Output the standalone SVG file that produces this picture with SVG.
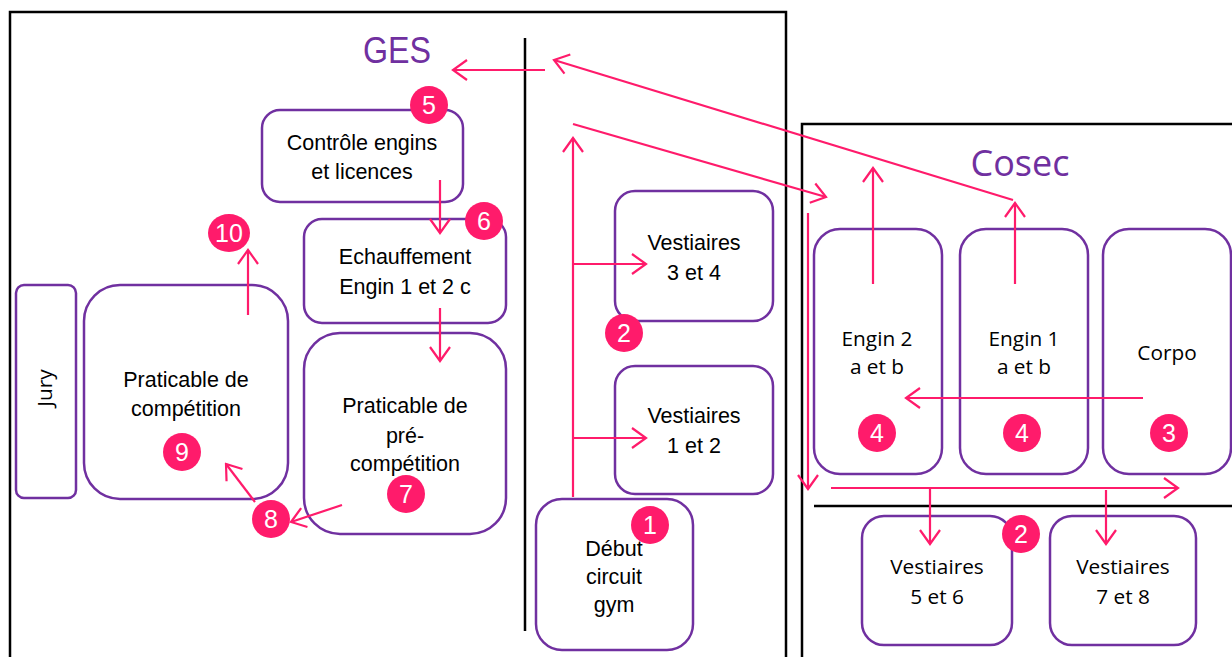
<svg xmlns="http://www.w3.org/2000/svg" width="1232" height="657" viewBox="0 0 1232 657">
<defs>
<marker id="ah" markerUnits="userSpaceOnUse" markerWidth="18" markerHeight="24" refX="16" refY="12" orient="auto">
<path d="M2,2 L16,12 L2,22" fill="none" stroke="#FF1B6B" stroke-width="2.2"/>
</marker>
</defs>
<style>
.wall{fill:none;stroke:#000;stroke-width:2.5}
.box{fill:#fff;stroke:#7030A0;stroke-width:2.5}
.t{font-family:"Liberation Sans",Arial,sans-serif;font-size:21.5px;fill:#000;text-anchor:middle}
.r{font-family:"Open Sans","Liberation Sans",sans-serif;font-size:20.8px;fill:#000;text-anchor:middle}
.title{fill:#7030A0;text-anchor:middle}
.badge circle,.badge ellipse{fill:#FF1B6B}
.badge text{font-family:"Liberation Sans",Arial,sans-serif;font-size:25px;fill:#fff;text-anchor:middle}
.arr{fill:none;stroke:#FF1B6B;stroke-width:2.2;marker-end:url(#ah)}
</style>
<rect width="1232" height="657" fill="#fff"/>
<g id="walls">
<rect class="wall" x="10" y="12" width="776" height="670"/>
<rect class="wall" x="802" y="124" width="450" height="560"/>
<line class="wall" x1="525" y1="38" x2="525" y2="631"/>
<line class="wall" x1="814" y1="506" x2="1232" y2="506"/>
</g>
<text class="title" x="397" y="63" font-family="Liberation Sans, Arial, sans-serif" font-size="36" textLength="68" lengthAdjust="spacingAndGlyphs">GES</text>
<text class="title" x="1020" y="176" font-family="Open Sans, Liberation Sans, sans-serif" font-size="36">Cosec</text>

<g id="controle">
<rect class="box" x="262" y="110" width="201" height="92" rx="18"/>
<text class="t" x="362" y="150">Contrôle engins</text>
<text class="t" x="362" y="179">et licences</text>
</g>
<g id="echauffement">
<rect class="box" x="304" y="219" width="202" height="104" rx="18"/>
<text class="t" x="405" y="264">Echauffement</text>
<text class="t" x="405" y="294">Engin 1 et 2 c</text>
</g>
<g id="precompetition">
<rect class="box" x="304" y="333" width="202" height="201" rx="36"/>
<text class="t" x="405" y="413">Praticable de</text>
<text class="t" x="405" y="443">pré-</text>
<text class="t" x="405" y="471">compétition</text>
</g>
<g id="competition">
<rect class="box" x="84" y="285" width="204" height="214" rx="36"/>
<text class="t" x="186" y="387">Praticable de</text>
<text class="t" x="186" y="416">compétition</text>
</g>
<g id="jury">
<rect class="box" x="16" y="285" width="60" height="213" rx="8"/>
<text class="r" x="0" y="0" font-size="18" transform="translate(52,388) rotate(-90)">Jury</text>
</g>
<g id="vestiaires34">
<rect class="box" x="615" y="191" width="158" height="130" rx="20"/>
<text class="t" x="694" y="250">Vestiaires</text>
<text class="t" x="694" y="280">3 et 4</text>
</g>
<g id="vestiaires12">
<rect class="box" x="615" y="366" width="158" height="128" rx="20"/>
<text class="t" x="694" y="423">Vestiaires</text>
<text class="t" x="694" y="453">1 et 2</text>
</g>
<g id="debut">
<rect class="box" x="536" y="499" width="157" height="151" rx="26"/>
<text class="t" x="614" y="556">Début</text>
<text class="t" x="614" y="584">circuit</text>
<text class="t" x="614" y="612">gym</text>
</g>
<g id="engin2">
<rect class="box" x="814" y="229" width="128" height="245" rx="26"/>
<text class="r" x="877" y="346">Engin 2</text>
<text class="r" x="877" y="374">a et b</text>
</g>
<g id="engin1">
<rect class="box" x="960" y="229" width="128" height="245" rx="26"/>
<text class="r" x="1024" y="346">Engin 1</text>
<text class="r" x="1024" y="374">a et b</text>
</g>
<g id="corpo">
<rect class="box" x="1103" y="229" width="128" height="245" rx="26"/>
<text class="r" x="1167" y="360">Corpo</text>
</g>
<g id="vestiaires56">
<rect class="box" x="862" y="516" width="150" height="129" rx="22"/>
<text class="r" x="937" y="574">Vestiaires</text>
<text class="r" x="937" y="604">5 et 6</text>
</g>
<g id="vestiaires78">
<rect class="box" x="1050" y="516" width="146" height="129" rx="22"/>
<text class="r" x="1123" y="574">Vestiaires</text>
<text class="r" x="1123" y="604">7 et 8</text>
</g>

<g id="connectors">
<line class="arr" x1="545" y1="70" x2="453" y2="70"/>
<line class="arr" x1="1013" y1="200" x2="554" y2="60"/>
<line class="arr" x1="573" y1="124" x2="826" y2="197"/>
<line class="arr" x1="573" y1="497" x2="573" y2="138"/>
<line class="arr" x1="573" y1="264" x2="646" y2="264"/>
<line class="arr" x1="573" y1="438" x2="646" y2="438"/>
<line class="arr" x1="440" y1="180" x2="440" y2="233"/>
<line class="arr" x1="440" y1="308" x2="440" y2="361"/>
<line class="arr" x1="248" y1="315" x2="248" y2="250"/>
<line class="arr" x1="342" y1="505" x2="291" y2="522"/>
<line class="arr" x1="255" y1="502" x2="226" y2="464"/>
<line class="arr" x1="873" y1="284" x2="873" y2="168"/>
<line class="arr" x1="1015" y1="284" x2="1015" y2="203"/>
<line class="arr" x1="1143" y1="398" x2="906" y2="398"/>
<line class="arr" x1="808" y1="213" x2="808" y2="489"/>
<line class="arr" x1="831" y1="488" x2="1178" y2="488"/>
<line class="arr" x1="930" y1="488" x2="930" y2="544"/>
<line class="arr" x1="1106" y1="490" x2="1106" y2="544"/>
</g>

<g id="badges" class="badge">
<circle cx="429" cy="105" r="19"/><text x="429" y="114">5</text>
<circle cx="484" cy="221" r="19"/><text x="484" y="230">6</text>
<circle cx="406" cy="494" r="19"/><text x="406" y="503">7</text>
<circle cx="271" cy="519" r="19"/><text x="271" y="528">8</text>
<circle cx="182" cy="452" r="19"/><text x="182" y="461">9</text>
<ellipse cx="229" cy="233" rx="21" ry="19"/><text x="229" y="242">10</text>
<circle cx="624" cy="333" r="19"/><text x="624" y="342">2</text>
<circle cx="650" cy="525" r="19"/><text x="650" y="534">1</text>
<circle cx="877" cy="433" r="19"/><text x="877" y="442">4</text>
<circle cx="1022" cy="433" r="19"/><text x="1022" y="442">4</text>
<circle cx="1169" cy="433" r="19"/><text x="1169" y="442">3</text>
<circle cx="1021" cy="534" r="19"/><text x="1021" y="543">2</text>
</g>
</svg>
